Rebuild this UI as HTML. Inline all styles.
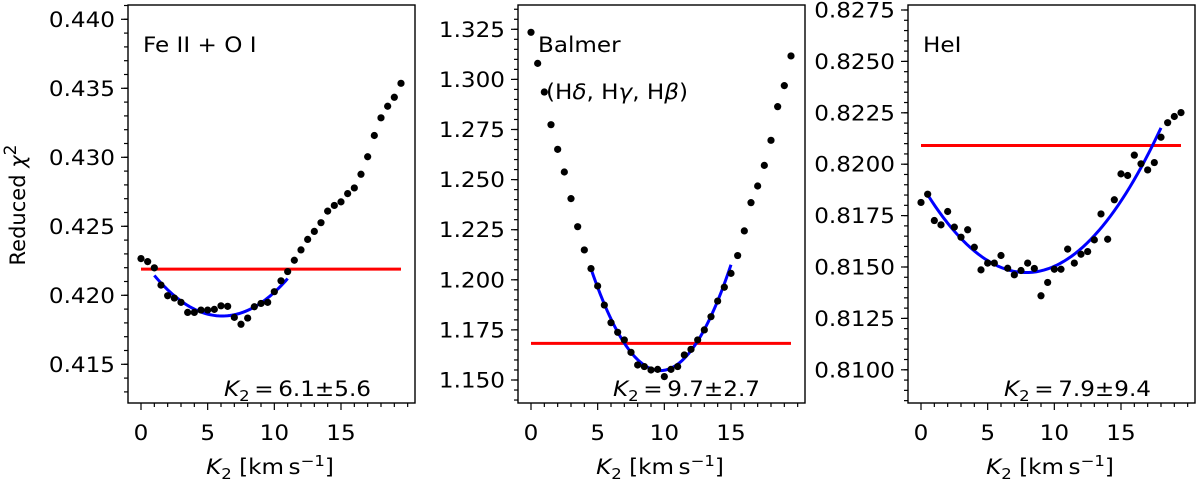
<!DOCTYPE html>
<html><head><meta charset="utf-8"><style>
body{margin:0;background:#fff;}
svg text{font-family:"DejaVu Sans","Liberation Sans",sans-serif;font-size:21px;fill:#000;}
</style></head><body>
<svg id="chart" width="1200" height="483" xmlns="http://www.w3.org/2000/svg"></svg>
<script>
const k2Values = [0,0.5,1,1.5,2,2.5,3,3.5,4,4.5,5,5.5,6,6.5,7,7.5,8,8.5,9,9.5,10,10.5,11,11.5,12,12.5,13,13.5,14,14.5,15,15.5,16,16.5,17,17.5,18,18.5,19,19.5];
const feChi2 = [0.42266,0.42244,0.42199,0.42074,0.41997,0.41980,0.41949,0.41876,0.41876,0.41893,0.41893,0.41898,0.41924,0.41920,0.41840,0.41790,0.41835,0.41917,0.41941,0.41949,0.42026,0.42105,0.42172,0.42254,0.42329,0.42405,0.42463,0.42526,0.42610,0.42651,0.42677,0.42737,0.42778,0.42877,0.43004,0.43158,0.43286,0.43370,0.43435,0.43536];
const balmerChi2 = [1.3235,1.3080,1.2937,1.2774,1.2651,1.2538,1.2405,1.2265,1.2149,1.2056,1.1969,1.1874,1.1786,1.1738,1.1700,1.1638,1.1575,1.1567,1.1550,1.1553,1.1517,1.1553,1.1567,1.1625,1.1653,1.1700,1.1750,1.1816,1.1894,1.1963,1.2032,1.2121,1.2244,1.2385,1.2468,1.2571,1.2696,1.2864,1.2969,1.3117];
const heChi2 = [0.81814,0.81854,0.81726,0.81705,0.81770,0.81694,0.81645,0.81681,0.81596,0.81486,0.81519,0.81519,0.81556,0.81494,0.81462,0.81483,0.81519,0.81493,0.81360,0.81425,0.81489,0.81489,0.81587,0.81519,0.81562,0.81575,0.81632,0.81758,0.81635,0.81827,0.81953,0.81945,0.82044,0.82002,0.81972,0.82008,0.82131,0.82202,0.82232,0.82251];
const redLevels = [0.4219, 1.1683, 0.82091];
const fitMin = [6.1, 9.7, 7.9];
const fitMinVal = [0.41850, 1.1547, 0.81473];
const fitCurv = [0.000113, 0.00188, 0.000069];
const fitRange = [[1,11],[4.5,15],[0.5,18]];
const xTicks = [0,5,10,15];
const yTicks1 = ["0.415","0.420","0.425","0.430","0.435","0.440"];
const yTicks2 = ["1.150","1.175","1.200","1.225","1.250","1.275","1.300","1.325"];
const yTicks3 = ["0.8100","0.8125","0.8150","0.8175","0.8200","0.8225","0.8250","0.8275"];
const titles = ["Fe II + O I","Balmer","HeI"];
const resultLabels = ["6.1\u00b15.6","9.7\u00b12.7","7.9\u00b19.4"];

const svg = document.getElementById('chart');
const NS = 'http://www.w3.org/2000/svg';
const SX = 1.1;
function mk(tag, attrs, parent){ const e=document.createElementNS(NS,tag); for(const k in attrs) e.setAttribute(k,attrs[k]); (parent||svg).appendChild(e); return e; }
function txt(x,y,anchor,parent){ return mk('text',{x:0,y:0,'text-anchor':anchor||'start',transform:'translate('+x+','+y+') scale('+SX+',1)'},parent); }

const panels = [
 {x0:141, left:128, data:feChi2, ticks:yTicks1, yRef:0.440, yRefPx:19.3, pxPer:69/0.005, minor:0.001, yMin:0.4126, yMax:0.441},
 {x0:531, left:518, data:balmerChi2, ticks:yTicks2, yRef:1.325, yRefPx:29.3, pxPer:50.1/0.025, minor:0.005, yMin:1.13, yMax:1.336},
 {x0:921, left:908, data:heChi2, ticks:yTicks3, yRef:0.8275, yRefPx:10, pxPer:51.4/0.0025, minor:0.0005, yMin:0.8085, yMax:0.8277}
];
const TOP=5, BOT=403, W=287, XS=13.333;

panels.forEach((p,i)=>{
  const g = mk('g',{});
  
  
  const xs = v => p.x0 + v*XS;
  const ys = v => p.yRefPx + (p.yRef - v)*p.pxPer;
  const cp = mk('clipPath',{id:'clip'+i},g); mk('rect',{x:p.left,y:TOP,width:W,height:BOT-TOP},cp);
  const plot = mk('g',{'clip-path':'url(#clip'+i+')'},g);
  const rl = mk('line',{x1:xs(0),x2:xs(19.5),y1:ys(redLevels[i]),y2:ys(redLevels[i]),stroke:'#ff0000','stroke-width':3},plot);
  
  
  let d='';
  for(let t=0;t<=60;t++){ const x=fitRange[i][0]+(fitRange[i][1]-fitRange[i][0])*t/60; const y=fitMinVal[i]+fitCurv[i]*(x-fitMin[i])*(x-fitMin[i]); d+=(t?'L':'M')+xs(x).toFixed(2)+' '+ys(y).toFixed(2); }
  const fp = mk('path',{d:d,fill:'none',stroke:'#0000ff','stroke-width':3},plot);
  
  
  p.data.forEach((v,j)=>{
    const c = mk('circle',{cx:xs(k2Values[j]),cy:ys(v),r:3.6,fill:'#000'},plot);
    
    
  });
  const fr = mk('rect',{x:p.left,y:TOP,width:W,height:BOT-TOP,fill:'none',stroke:'#000','stroke-width':1.4},g);
  
  
  for(let v=0; v<=20; v++){
    const X=xs(v); if(X>p.left+W) continue;
    const major = xTicks.includes(v);
    mk('line',{x1:X,x2:X,y1:BOT,y2:BOT+(major?7:4),stroke:'#000','stroke-width':1.2},g);
  }
  xTicks.forEach(v=>{
    const t = txt(xs(v),440,'middle',g); t.textContent=v;
    
    
  });
  const nMin = Math.ceil(p.yMin/p.minor), nMax=Math.floor(p.yMax/p.minor);
  for(let n=nMin;n<=nMax;n++){
    const Y=ys(n*p.minor); if(Y<TOP||Y>BOT) continue;
    mk('line',{x1:p.left,x2:p.left-4,y1:Y,y2:Y,stroke:'#000','stroke-width':1.2},g);
  }
  p.ticks.forEach(s=>{
    const Y=ys(parseFloat(s));
    mk('line',{x1:p.left,x2:p.left-7,y1:Y,y2:Y,stroke:'#000','stroke-width':1.2},g);
    const t = txt(p.left-13,Y+7.5,'end',g); t.textContent=s;
    
    
  });
  const xt = txt(p.x0+129,474,'middle',g);
  xt.innerHTML='<tspan font-style="italic">K</tspan><tspan font-size="15" dy="5">2</tspan><tspan dy="-5"> [km\u2009s</tspan><tspan font-size="15" dy="-8">\u22121</tspan><tspan dy="8">]</tspan>';
  
  
  const tt = txt(p.x0+2+(i==1?5:0),52,'start',g); tt.textContent=titles[i];
  
  
  const rx=[224,613,1004][i];
  const rt = txt(rx,396,'start',g);
  rt.innerHTML='<tspan font-style="italic">K</tspan><tspan font-size="15" dy="5">2</tspan><tspan dy="-5">\u2009=\u2009'+resultLabels[i]+'</tspan>';
  
  
});
const sub = txt(546,99,'start');
sub.innerHTML='(H<tspan font-style="italic">\u03b4</tspan>, H<tspan font-style="italic">\u03b3</tspan>, H<tspan font-style="italic">\u03b2</tspan>)';


const yl = mk('text',{x:0,y:0,transform:'translate(25,205) rotate(-90)','text-anchor':'middle','font-size':'24'});
yl.innerHTML='Reduced <tspan font-style="italic">\u03c7</tspan><tspan font-size="17" dy="-9">2</tspan>';


</script>
</body></html>
